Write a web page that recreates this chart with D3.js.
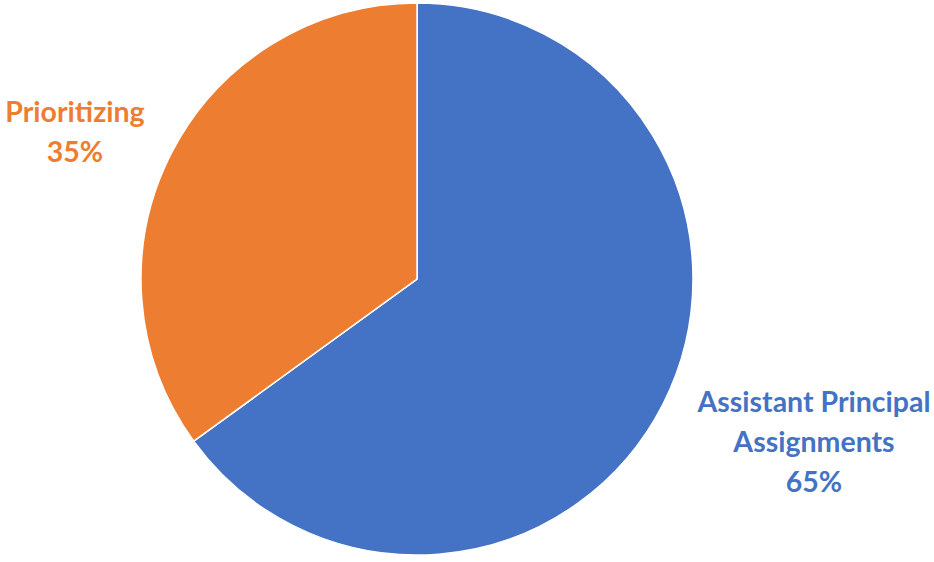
<!DOCTYPE html>
<html>
<head>
<meta charset="utf-8">
<script src="https://cdn.jsdelivr.net/npm/d3@7"></script>
<style>
  html, body { margin: 0; padding: 0; background: #ffffff; }
  svg { display: block; }
</style>
</head>
<body>
<svg id="chart" width="934" height="562"></svg>
<script>
const categories = ["Assistant Principal Assignments", "Prioritizing"];
const values = [65, 35];
const labelLines = [["Assistant Principal", "Assignments", "65%"], ["Prioritizing", "35%"]];
const colors = ["#4472C4", "#ED7D31"];

const svg = d3.select("#chart");
const cx = 417, cy = 279, r = 276;

const pie = d3.pie().sort(null).value(d => d);
const arcs = pie(values);
const arc = d3.arc().innerRadius(0).outerRadius(r);

const g = svg.append("g").attr("transform", `translate(${cx},${cy})`);
g.selectAll("path")
  .data(arcs)
  .join("path")
  .attr("d", arc)
  .attr("fill", (d, i) => colors[i])
  .attr("stroke", "#ffffff")
  .attr("stroke-width", 1.5);

const labelPos = [[814, 412], [75, 122]];
const lineH = 40;
labelLines.forEach((lines, i) => {
  const t = svg.append("text")
    .attr("text-anchor", "middle")
    .attr("font-family", "Lato, 'Open Sans', sans-serif")
    .attr("font-weight", 700)
    .attr("font-size", 28.5)
    .attr("fill", colors[i]);
  lines.forEach((ln, j) => {
    t.append("tspan")
      .attr("x", labelPos[i][0])
      .attr("y", labelPos[i][1] + j * lineH)
      .text(ln);
  });
});
</script>
</body>
</html>
